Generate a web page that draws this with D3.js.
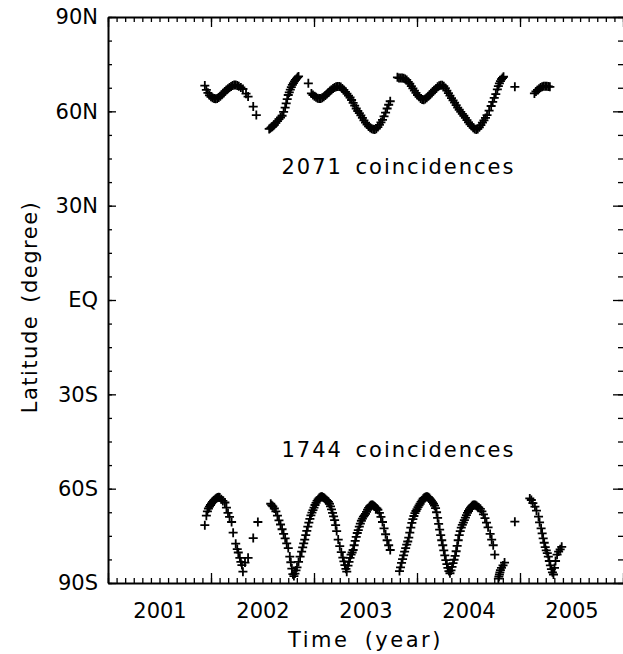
<!DOCTYPE html>
<html>
<head>
<meta charset="utf-8">
<script src="https://cdn.jsdelivr.net/npm/d3@7"></script>
<style>
  body { margin: 0; background: #fff; }
  text { font-family: "DejaVu Sans", sans-serif; }
</style>
</head>
<body>
<div id="chart"></div>
<script>
// tick labels
const yearLabels = [2001, 2002, 2003, 2004, 2005];
const latTicks = [90, 60, 30, 0, -30, -60, -90];
const latLabels = ["90N", "60N", "30N", "EQ", "30S", "60S", "90S"];
const countLabels = ["2071 coincidences", "1744 coincidences"];

// northern hemisphere coincidences [time (year), latitude]
const northPoints = [
  [2001.94, 68.2], [2001.955, 66.8], [2001.97, 65.9], [2001.985, 65.1], [2002.0, 64.6],
  [2002.015, 64.3], [2002.03, 64.1], [2002.045, 64.0], [2002.06, 64.1], [2002.075, 64.4],
  [2002.09, 64.8], [2002.105, 65.3], [2002.12, 65.8], [2002.135, 66.3], [2002.15, 66.8],
  [2002.165, 67.2], [2002.18, 67.6], [2002.195, 67.9], [2002.21, 68.2], [2002.225, 68.4],
  [2002.24, 68.4], [2002.255, 68.2], [2002.27, 68.0], [2002.29, 67.6], [2002.31, 67.1],
  [2002.34, 65.6], [2002.36, 64.7], [2002.41, 61.5], [2002.44, 58.8],
  [2002.565, 54.4], [2002.575, 54.6], [2002.585, 54.9], [2002.595, 55.1], [2002.605, 55.4],
  [2002.615, 55.7], [2002.63, 56.3], [2002.645, 56.9], [2002.66, 57.5], [2002.675, 58.0],
  [2002.69, 58.6], [2002.705, 59.8], [2002.72, 61.2], [2002.73, 62.5], [2002.74, 63.9],
  [2002.75, 65.2], [2002.76, 66.0], [2002.77, 66.9], [2002.78, 67.7], [2002.79, 68.4],
  [2002.80, 69.0], [2002.81, 69.5], [2002.82, 70.0], [2002.83, 70.4], [2002.84, 70.8],
  [2002.85, 71.1], [2002.945, 68.9],
  [2002.975, 65.7], [2002.99, 65.2], [2003.005, 64.8], [2003.02, 64.5], [2003.035, 64.2],
  [2003.05, 64.1], [2003.065, 64.1], [2003.08, 64.3], [2003.095, 64.6], [2003.11, 65.0],
  [2003.125, 65.5], [2003.14, 66.0], [2003.155, 66.5], [2003.17, 66.9], [2003.185, 67.3],
  [2003.20, 67.6], [2003.215, 67.8], [2003.23, 67.9], [2003.245, 67.9], [2003.26, 67.7],
  [2003.275, 67.3], [2003.29, 66.8], [2003.305, 66.2], [2003.32, 65.6], [2003.335, 65.0],
  [2003.35, 64.4], [2003.365, 63.6], [2003.38, 62.7], [2003.395, 61.8], [2003.41, 60.9],
  [2003.425, 60.1], [2003.44, 59.4], [2003.455, 58.7], [2003.47, 57.9], [2003.485, 57.1],
  [2003.50, 56.4], [2003.515, 55.8], [2003.53, 55.2], [2003.545, 54.8], [2003.56, 54.5],
  [2003.575, 54.3], [2003.59, 54.2], [2003.605, 54.5], [2003.62, 55.0], [2003.635, 55.7],
  [2003.65, 56.5], [2003.665, 57.3], [2003.68, 58.4], [2003.695, 59.6], [2003.71, 60.9],
  [2003.725, 62.1], [2003.74, 63.2],
  [2003.81, 70.8], [2003.825, 70.6], [2003.84, 70.6], [2003.855, 70.6], [2003.87, 70.5],
  [2003.885, 70.3], [2003.90, 70.0], [2003.915, 69.4], [2003.93, 68.8], [2003.945, 68.0],
  [2003.96, 67.3], [2003.975, 66.6], [2003.99, 65.9], [2004.005, 65.2], [2004.02, 64.6],
  [2004.035, 64.1], [2004.05, 63.8], [2004.065, 63.7], [2004.08, 63.9], [2004.095, 64.3],
  [2004.11, 64.8], [2004.125, 65.3], [2004.14, 65.8], [2004.155, 66.3], [2004.17, 66.8],
  [2004.185, 67.3], [2004.20, 67.8], [2004.215, 68.1], [2004.23, 68.3], [2004.245, 68.3],
  [2004.26, 68.0], [2004.275, 67.4], [2004.29, 66.6], [2004.305, 65.8], [2004.32, 65.0],
  [2004.335, 64.2], [2004.35, 63.5], [2004.365, 62.8], [2004.38, 62.0], [2004.395, 61.2],
  [2004.41, 60.5], [2004.425, 59.8], [2004.44, 59.2], [2004.455, 58.6], [2004.47, 57.9],
  [2004.485, 57.2], [2004.50, 56.5], [2004.515, 55.9], [2004.53, 55.3], [2004.545, 54.8],
  [2004.56, 54.4], [2004.575, 54.2], [2004.59, 54.4], [2004.605, 54.9], [2004.62, 55.6],
  [2004.635, 56.4], [2004.65, 57.1], [2004.665, 57.9], [2004.68, 58.8], [2004.70, 60.2],
  [2004.72, 61.7], [2004.735, 63.0], [2004.75, 64.3], [2004.765, 65.5], [2004.78, 67.0],
  [2004.79, 68.0], [2004.80, 68.9], [2004.81, 69.6], [2004.82, 70.2], [2004.83, 70.6],
  [2004.84, 71.0], [2004.95, 67.8],
  [2005.14, 65.7], [2005.155, 66.3], [2005.17, 66.8], [2005.185, 67.2], [2005.20, 67.6],
  [2005.215, 67.8], [2005.23, 68.0], [2005.245, 68.0], [2005.26, 68.0], [2005.275, 67.9],
  [2005.29, 67.8]
];

// southern hemisphere coincidences [time (year), latitude]
const southPoints = [
  [2001.94, -71.6], [2001.955, -68.6], [2001.965, -67.2], [2001.975, -66.3], [2001.985, -65.7],
  [2001.995, -65.2], [2002.005, -64.7], [2002.015, -64.2], [2002.025, -63.8], [2002.035, -63.5],
  [2002.045, -63.2], [2002.055, -63.0], [2002.065, -62.8], [2002.075, -62.7], [2002.085, -62.8],
  [2002.10, -63.4], [2002.115, -63.9], [2002.135, -64.4], [2002.15, -66.0], [2002.165, -67.7],
  [2002.18, -69.0], [2002.20, -70.6], [2002.215, -74.0], [2002.24, -77.5], [2002.255, -79.2],
  [2002.265, -80.3], [2002.28, -82.0], [2002.29, -83.3], [2002.30, -84.3], [2002.31, -86.4],
  [2002.33, -83.5], [2002.36, -82.0], [2002.41, -75.7], [2002.455, -70.6],
  [2002.58, -64.8], [2002.59, -65.3], [2002.60, -65.6], [2002.615, -66.3], [2002.63, -67.2],
  [2002.645, -68.6], [2002.66, -70.1], [2002.675, -71.4], [2002.69, -72.9], [2002.705, -74.4],
  [2002.72, -75.8], [2002.735, -77.4], [2002.75, -78.9], [2002.765, -81.6], [2002.775, -83.4],
  [2002.785, -85.4], [2002.795, -87.2], [2002.805, -87.8], [2002.815, -87.0], [2002.825, -86.0],
  [2002.835, -85.0], [2002.85, -83.3], [2002.865, -81.6], [2002.88, -80.0], [2002.89, -78.7],
  [2002.90, -77.4], [2002.91, -76.2], [2002.92, -74.8], [2002.93, -73.4], [2002.94, -72.1],
  [2002.95, -70.8], [2002.96, -69.6], [2002.97, -68.5], [2002.98, -67.6], [2002.99, -66.8],
  [2003.00, -66.0], [2003.01, -65.2], [2003.02, -64.5], [2003.03, -63.9], [2003.04, -63.4],
  [2003.05, -63.0], [2003.06, -62.7], [2003.07, -62.6], [2003.08, -62.6], [2003.09, -62.8],
  [2003.10, -63.0], [2003.11, -63.3], [2003.12, -63.6], [2003.13, -63.9], [2003.14, -64.2],
  [2003.15, -64.8], [2003.16, -65.6], [2003.17, -66.6], [2003.18, -67.7], [2003.19, -68.8],
  [2003.20, -70.0], [2003.21, -71.6], [2003.22, -73.5], [2003.235, -76.2], [2003.25, -78.3],
  [2003.265, -80.2], [2003.28, -81.9], [2003.29, -83.1], [2003.30, -84.3], [2003.31, -85.5],
  [2003.318, -86.4],
  [2003.33, -84.5], [2003.34, -83.3], [2003.35, -82.0], [2003.36, -81.0], [2003.37, -80.3],
  [2003.38, -79.5], [2003.39, -78.0], [2003.40, -76.6], [2003.41, -75.3], [2003.42, -74.1],
  [2003.43, -73.2], [2003.44, -72.1], [2003.45, -71.1], [2003.46, -70.2], [2003.47, -69.5],
  [2003.48, -68.9], [2003.49, -68.5], [2003.50, -68.0], [2003.51, -67.4], [2003.52, -66.7],
  [2003.53, -66.1], [2003.54, -65.6], [2003.55, -65.3], [2003.56, -65.2], [2003.57, -65.2],
  [2003.58, -65.4], [2003.59, -65.7], [2003.60, -66.0], [2003.61, -66.3], [2003.62, -66.7],
  [2003.635, -67.7], [2003.65, -69.0], [2003.665, -70.6], [2003.68, -72.6], [2003.695, -74.5],
  [2003.71, -76.4], [2003.725, -78.0], [2003.74, -79.5],
  [2003.83, -86.2], [2003.84, -85.0], [2003.85, -83.6], [2003.86, -82.4], [2003.87, -81.2],
  [2003.88, -80.0], [2003.89, -78.9], [2003.90, -77.8], [2003.91, -76.8], [2003.92, -75.6],
  [2003.93, -74.0], [2003.94, -72.4], [2003.95, -70.9], [2003.96, -69.7], [2003.97, -68.7],
  [2003.98, -67.8], [2003.99, -67.1], [2004.00, -66.5], [2004.01, -65.9], [2004.02, -65.3],
  [2004.03, -64.8], [2004.04, -64.2], [2004.05, -63.7], [2004.06, -63.2], [2004.07, -62.9],
  [2004.08, -62.7], [2004.09, -62.6], [2004.10, -62.6], [2004.11, -62.7], [2004.12, -63.0],
  [2004.13, -63.4], [2004.14, -63.8], [2004.15, -64.3], [2004.16, -64.8], [2004.17, -65.4],
  [2004.18, -66.2], [2004.19, -67.5], [2004.20, -69.3], [2004.21, -71.2], [2004.22, -73.0],
  [2004.23, -74.8], [2004.24, -76.4], [2004.25, -78.0], [2004.26, -79.6], [2004.27, -81.2],
  [2004.28, -82.7], [2004.29, -84.0], [2004.30, -85.2], [2004.31, -86.2], [2004.32, -86.9],
  [2004.33, -86.0], [2004.34, -84.9], [2004.35, -83.7], [2004.36, -82.6], [2004.37, -81.4],
  [2004.38, -79.9], [2004.39, -78.2], [2004.40, -76.4], [2004.41, -74.8], [2004.42, -73.5],
  [2004.43, -72.4], [2004.44, -71.5], [2004.45, -70.8], [2004.46, -70.0], [2004.47, -69.2],
  [2004.48, -68.4], [2004.49, -67.7], [2004.50, -67.1], [2004.51, -66.5], [2004.52, -66.0],
  [2004.53, -65.6], [2004.54, -65.3], [2004.55, -65.2], [2004.56, -65.2], [2004.57, -65.3],
  [2004.58, -65.5], [2004.59, -65.8], [2004.60, -66.0], [2004.615, -66.4], [2004.63, -67.2],
  [2004.645, -68.2], [2004.66, -69.4], [2004.675, -70.8], [2004.69, -72.3], [2004.71, -74.4],
  [2004.725, -76.2], [2004.74, -78.0], [2004.755, -81.0], [2004.79, -88.6], [2004.795, -88.0],
  [2004.80, -87.3], [2004.805, -86.6], [2004.81, -85.9], [2004.82, -85.2], [2004.835, -84.4],
  [2004.85, -83.5], [2004.95, -70.5],
  [2005.095, -63.1], [2005.11, -63.6], [2005.125, -64.6], [2005.145, -65.7], [2005.16, -67.0],
  [2005.18, -68.9], [2005.19, -70.7], [2005.205, -72.6], [2005.215, -74.2], [2005.225, -75.8],
  [2005.235, -77.2], [2005.245, -78.6], [2005.255, -79.6], [2005.265, -80.5], [2005.275, -81.6],
  [2005.285, -83.0], [2005.295, -84.4], [2005.305, -85.6], [2005.315, -86.6], [2005.325, -87.3],
  [2005.335, -85.2], [2005.345, -83.0], [2005.36, -81.0], [2005.375, -80.0], [2005.39, -79.3],
  [2005.405, -78.5]
];

var width = 623;
var height = 654;
var margin = { top: 17, right: 0, bottom: 71, left: 108 };

var svg = d3
  .select("#chart")
  .append("svg")
  .attr("width", width)
  .attr("height", height);

var xScale = d3
  .scaleLinear()
  .domain([2001, 2006])
  .range([margin.left, width - margin.right]);

var yScale = d3
  .scaleLinear()
  .domain([-90, 90])
  .range([height - margin.bottom, margin.top]);

const yearTicks = d3.range(2001, 2007);
const monthTicks = d3.range(0, 61).map((i) => 2001 + i / 12);
const latMinor = d3.range(-90, 91, 7.5);

function styleAxis(g) {
  g.attr("font-size", null).attr("font-family", null);
  g.selectAll("line").attr("stroke", "#000").attr("stroke-width", 1.3);
  g.select(".domain").attr("stroke", "#000").attr("stroke-width", 2);
  g.selectAll("text").attr("fill", "#000").style("font-size", "21px");
}

// axis-x bottom / top (minor + major ticks)
[
  [d3.axisBottom, height - margin.bottom],
  [d3.axisTop, margin.top],
].forEach(function ([axisFn, y0]) {
  svg.append("g")
    .attr("transform", `translate(0, ${y0})`)
    .call(axisFn(xScale).tickValues(monthTicks).tickSize(-5).tickSizeOuter(0).tickFormat(""))
    .call(styleAxis);
  svg.append("g")
    .attr("transform", `translate(0, ${y0})`)
    .call(axisFn(xScale).tickValues(yearTicks).tickSize(-10).tickSizeOuter(0).tickFormat(""))
    .call(styleAxis)
    .select(".domain").remove();
});

// year labels centred in each year
svg.append("g")
  .attr("transform", `translate(0, ${height - margin.bottom})`)
  .call(
    d3.axisBottom(xScale)
      .tickValues(yearLabels.map((d) => d + 0.5))
      .tickSize(0)
      .tickPadding(20)
      .tickFormat((d) => Math.floor(d))
  )
  .call(styleAxis)
  .select(".domain").remove();

// axis-y left / right
[
  [d3.axisLeft, margin.left, 4, 8, true],
  [d3.axisRight, width - margin.right, 5, 10, false],
].forEach(function ([axisFn, x0, minorLen, majorLen, withDomain]) {
  var gMinor = svg.append("g")
    .attr("transform", `translate(${x0}, 0)`)
    .call(axisFn(yScale).tickValues(latMinor).tickSize(-minorLen).tickSizeOuter(0).tickFormat(""))
    .call(styleAxis);
  if (!withDomain) gMinor.select(".domain").remove();
  svg.append("g")
    .attr("transform", `translate(${x0}, 0)`)
    .call(
      axisFn(yScale)
        .tickValues(latTicks)
        .tickSize(-majorLen)
        .tickSizeOuter(0)
        .tickPadding(10)
        .tickFormat((d, i) => (withDomain ? latLabels[i] : ""))
    )
    .call(styleAxis)
    .select(".domain").remove();
});

// coincidence markers (+)
var plus = "M-4.5,0H4.5M0,-4.5V4.5";
[northPoints, southPoints].forEach(function (pts) {
  svg.append("g")
    .selectAll("path")
    .data(pts)
    .join("path")
    .attr("transform", (d) => `translate(${xScale(d[0])}, ${yScale(d[1])})`)
    .attr("d", plus)
    .attr("fill", "none")
    .attr("stroke", "#000")
    .attr("stroke-width", 1.8);
});

// counts
svg.selectAll(".count")
  .data(countLabels)
  .join("text")
  .attr("class", "count")
  .attr("x", xScale(2003.82))
  .attr("y", (d, i) => yScale(i === 0 ? 42.5 : -47.5))
  .attr("dy", "0.35em")
  .attr("text-anchor", "middle")
  .style("font-size", "21px")
  .style("letter-spacing", "2px")
  .style("word-spacing", "4px")
  .text((d) => d);

// axis titles
svg.append("text")
  .attr("x", (margin.left + width) / 2)
  .attr("y", 647)
  .attr("text-anchor", "middle")
  .style("font-size", "21px")
  .style("letter-spacing", "2.5px")
  .style("word-spacing", "6px")
  .text("Time (year)");

svg.append("text")
  .attr("transform", `translate(37, ${yScale(0) + 7}) rotate(-90)`)
  .attr("text-anchor", "middle")
  .style("font-size", "21px")
  .style("letter-spacing", "1.5px")
  .style("word-spacing", "4px")
  .text("Latitude (degree)");
</script>
</body>
</html>
